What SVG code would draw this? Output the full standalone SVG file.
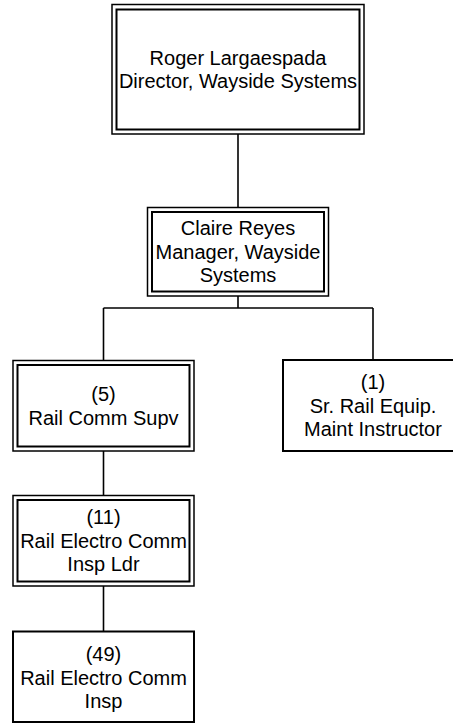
<svg xmlns="http://www.w3.org/2000/svg" width="453" height="723" viewBox="0 0 453 723">
<style>
.bg{fill:#ffffff}
.box{fill:#ffffff;stroke:#000000}
.outer{stroke-width:1.5}
.inner{fill:none;stroke:#000000;stroke-width:2}
.single{stroke-width:2}
.conn{fill:none;stroke:#000000;stroke-width:1.6}
text{font-family:"Liberation Sans",Arial,sans-serif;font-size:20px;fill:#000000;text-anchor:middle}
</style>
<rect class="bg" x="0" y="0" width="453" height="723"/>
<g id="connectors">
<line class="conn" x1="238" y1="134" x2="238" y2="207.5"/>
<line class="conn" x1="238" y1="296" x2="238" y2="308"/>
<line class="conn" x1="103.5" y1="308" x2="373" y2="308"/>
<line class="conn" x1="103.5" y1="308" x2="103.5" y2="360.5"/>
<line class="conn" x1="373" y1="308" x2="373" y2="360"/>
<line class="conn" x1="103.5" y1="451" x2="103.5" y2="495.5"/>
<line class="conn" x1="103.5" y1="586" x2="103.5" y2="631.5"/>
</g>
<g id="node-director">
<rect class="box outer" x="112" y="4.5" width="252" height="129.5"/>
<rect class="inner" x="116.5" y="9.5" width="243" height="120"/>
<text x="238" y="64.6">Roger Largaespada</text>
<text x="238" y="88.2">Director, Wayside Systems</text>
</g>
<g id="node-manager">
<rect class="box outer" x="147.5" y="207.5" width="181" height="88.5"/>
<rect class="inner" x="152" y="212" width="172" height="79.5"/>
<text x="238" y="235.2">Claire Reyes</text>
<text x="238" y="258.7">Manager, Wayside</text>
<text x="238" y="282.2">Systems</text>
</g>
<g id="node-supv">
<rect class="box outer" x="13" y="360.5" width="181" height="90.5"/>
<rect class="inner" x="17.5" y="365" width="172" height="81.5"/>
<text x="103.5" y="401.2">(5)</text>
<text x="103.5" y="424.7">Rail Comm Supv</text>
</g>
<g id="node-instructor">
<rect class="box single" x="283" y="360" width="181" height="91"/>
<text x="373" y="389.2">(1)</text>
<text x="373" y="412.7">Sr. Rail Equip.</text>
<text x="373" y="436.2">Maint Instructor</text>
</g>
<g id="node-ldr">
<rect class="box outer" x="13" y="495.5" width="181" height="90.5"/>
<rect class="inner" x="17.5" y="500" width="172" height="81.5"/>
<text x="103.5" y="524.4">(11)</text>
<text x="103.5" y="547.9">Rail Electro Comm</text>
<text x="103.5" y="571.4">Insp Ldr</text>
</g>
<g id="node-insp">
<rect class="box single" x="13" y="631.5" width="181" height="90.5"/>
<text x="103.5" y="661.4">(49)</text>
<text x="103.5" y="684.9">Rail Electro Comm</text>
<text x="103.5" y="708.4">Insp</text>
</g>
</svg>
